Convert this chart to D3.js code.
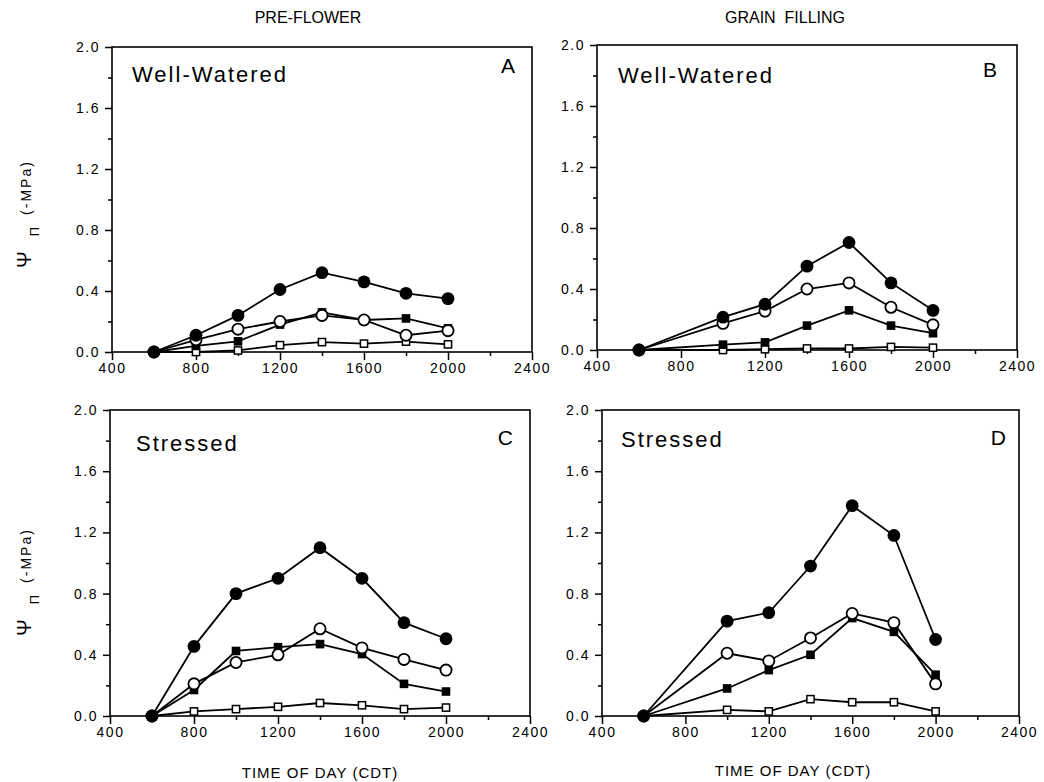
<!DOCTYPE html>
<html>
<head>
<meta charset="utf-8">
<script src="https://cdn.jsdelivr.net/npm/d3@7"></script>
<style>
  body { margin: 0; background: #fff; }
  svg text { font-family: "Liberation Sans", Arial, Helvetica, sans-serif; fill: #000; }
</style>
</head>
<body>
<div class="svg-container"></div>
<script>
// time of day (CDT) sampled in each stage
var timesPreFlower = [600, 800, 1000, 1200, 1400, 1600, 1800, 2000];
var timesGrainFill = [600, 1000, 1200, 1400, 1600, 1800, 2000];

// A: pre-flower, well-watered
var aFilledCircle = [0, 0.11, 0.24, 0.41, 0.52, 0.46, 0.385, 0.35];
var aOpenCircle   = [0, 0.08, 0.15, 0.20, 0.24, 0.21, 0.11, 0.14];
var aFilledSquare = [0, 0.04, 0.07, 0.18, 0.26, 0.21, 0.22, 0.155];
var aOpenSquare   = [0, 0.0, 0.01, 0.045, 0.065, 0.055, 0.068, 0.05];

// B: grain filling, well-watered
var bFilledCircle = [0, 0.215, 0.30, 0.55, 0.705, 0.44, 0.26];
var bOpenCircle   = [0, 0.175, 0.255, 0.40, 0.44, 0.28, 0.165];
var bFilledSquare = [0, 0.035, 0.05, 0.16, 0.26, 0.16, 0.11];
var bOpenSquare   = [0, 0.0, 0.005, 0.01, 0.01, 0.02, 0.015];

// C: pre-flower, stressed
var cFilledCircle = [0, 0.455, 0.80, 0.90, 1.10, 0.90, 0.61, 0.505];
var cOpenCircle   = [0, 0.21, 0.35, 0.40, 0.57, 0.445, 0.37, 0.30];
var cFilledSquare = [0, 0.17, 0.425, 0.45, 0.47, 0.405, 0.21, 0.16];
var cOpenSquare   = [0, 0.03, 0.045, 0.06, 0.085, 0.07, 0.045, 0.055];

// D: grain filling, stressed
var dFilledCircle = [0, 0.62, 0.675, 0.98, 1.375, 1.18, 0.50];
var dOpenCircle   = [0, 0.41, 0.36, 0.51, 0.67, 0.61, 0.21];
var dFilledSquare = [0, 0.18, 0.30, 0.40, 0.64, 0.55, 0.27];
var dOpenSquare   = [0, 0.04, 0.03, 0.11, 0.09, 0.09, 0.03];

var xMajorTicks = [400, 800, 1200, 1600, 2000, 2400];
var xMinorTicks = [600, 1000, 1400, 1800, 2200];
var yMajorTicks = [0, 0.4, 0.8, 1.2, 1.6, 2.0];
var yMinorTicks = [0.2, 0.6, 1.0, 1.4, 1.8];

var stageTitles = ["PRE-FLOWER", "GRAIN  FILLING"];
var xTitle = "TIME OF DAY (CDT)";

// panel frames, in page pixels
var panels = [
    {letter: "A", label: "Well-Watered", times: timesPreFlower,
     series: [aOpenSquare, aFilledSquare, aOpenCircle, aFilledCircle],
     left: 112, right: 532, top: 47, bottom: 352, labelDx: 20, labelDy: 35, letterDx: 17, letterDy: 26},
    {letter: "B", label: "Well-Watered", times: timesGrainFill,
     series: [bOpenSquare, bFilledSquare, bOpenCircle, bFilledCircle],
     left: 597, right: 1017, top: 45, bottom: 350, labelDx: 21, labelDy: 38, letterDx: 20, letterDy: 32},
    {letter: "C", label: "Stressed", times: timesPreFlower,
     series: [cOpenSquare, cFilledSquare, cOpenCircle, cFilledCircle],
     left: 110, right: 530, top: 410, bottom: 716, labelDx: 26, labelDy: 41, letterDx: 17, letterDy: 35},
    {letter: "D", label: "Stressed", times: timesGrainFill,
     series: [dOpenSquare, dFilledSquare, dOpenCircle, dFilledCircle],
     left: 602, right: 1019, top: 410, bottom: 716, labelDx: 19, labelDy: 37, letterDx: 13, letterDy: 35}
];

// marker kind for each series index (same order as series arrays)
var markers = ["openSquare", "filledSquare", "openCircle", "filledCircle"];

var svg = d3.select(".svg-container").append("svg")
    .attr("width", 1044)
    .attr("height", 782);

panels.forEach(function (p) {
    var xScale = d3.scaleLinear().domain([400, 2400]).range([p.left, p.right]),
        yScale = d3.scaleLinear().domain([0, 2]).range([p.bottom, p.top]);

    var g = svg.append("g").attr("class", "panel");

    // x axis: major ticks with labels, minor ticks without
    var xAx = g.append("g")
        .attr("class", "axis axis--x")
        .attr("transform", "translate(0," + p.bottom + ")")
        .call(d3.axisBottom(xScale).tickValues(xMajorTicks).tickSize(8).tickPadding(3)
            .tickFormat(d3.format("d")));
    g.append("g")
        .attr("transform", "translate(0," + p.bottom + ")")
        .call(d3.axisBottom(xScale).tickValues(xMinorTicks).tickSize(4).tickFormat(""));

    var yAx = g.append("g")
        .attr("class", "axis axis--y")
        .attr("transform", "translate(" + p.left + ",0)")
        .call(d3.axisLeft(yScale).tickValues(yMajorTicks).tickSize(7).tickPadding(5)
            .tickFormat(d3.format(".1f")));
    g.append("g")
        .attr("transform", "translate(" + p.left + ",0)")
        .call(d3.axisLeft(yScale).tickValues(yMinorTicks).tickSize(4).tickFormat(""));

    g.selectAll(".domain").remove();
    g.selectAll(".tick line").attr("stroke", "#000").attr("stroke-width", 1.5);
    g.selectAll(".tick text")
        .attr("font-size", "14px")
        .attr("letter-spacing", "1.5px")
        .attr("fill", "#000");

    // frame
    g.append("rect")
        .attr("x", p.left)
        .attr("y", p.top)
        .attr("width", p.right - p.left)
        .attr("height", p.bottom - p.top)
        .attr("fill", "none")
        .attr("stroke", "#000")
        .attr("stroke-width", 1.6);

    // panel texts
    g.append("text")
        .attr("x", p.left + p.labelDx)
        .attr("y", p.top + p.labelDy)
        .attr("font-size", "22px")
        .attr("letter-spacing", "2px")
        .text(p.label);
    g.append("text")
        .attr("x", p.right - p.letterDx)
        .attr("y", p.top + p.letterDy)
        .attr("font-size", "21px")
        .style("text-anchor", "end")
        .text(p.letter);

    var line = d3.line()
        .x(function (d) { return xScale(d.time); })
        .y(function (d) { return yScale(d.value); });

    var seriesData = p.series.map(function (vals, i) {
        return {
            kind: markers[i],
            values: p.times.map(function (t, j) { return {time: t, value: vals[j]}; })
        };
    });

    // lines underneath all markers
    g.selectAll(".line")
        .data(seriesData)
        .enter().append("path")
        .attr("class", "line")
        .attr("d", function (d) { return line(d.values); })
        .attr("fill", "none")
        .attr("stroke", "#000")
        .attr("stroke-width", 1.8);

    seriesData.forEach(function (s) {
        var pts = g.append("g").selectAll("g")
            .data(s.values)
            .enter().append("g")
            .attr("transform", function (d) {
                return "translate(" + xScale(d.time) + "," + yScale(d.value) + ")";
            });
        if (s.kind === "filledCircle") {
            pts.append("circle").attr("r", 6.4).attr("fill", "#000");
        } else if (s.kind === "openCircle") {
            pts.append("circle").attr("r", 5.6).attr("fill", "#fff")
                .attr("stroke", "#000").attr("stroke-width", 1.8);
        } else if (s.kind === "filledSquare") {
            pts.append("rect").attr("x", -4.3).attr("y", -4.3)
                .attr("width", 8.6).attr("height", 8.6).attr("fill", "#000");
        } else {
            pts.append("rect").attr("x", -3.6).attr("y", -3.6)
                .attr("width", 7.2).attr("height", 7.2).attr("fill", "#fff")
                .attr("stroke", "#000").attr("stroke-width", 1.5);
        }
    });
});

// column titles
svg.append("text")
    .attr("x", 308).attr("y", 23)
    .attr("font-size", "16px")
    .style("text-anchor", "middle")
    .text(stageTitles[0]);
svg.append("text")
    .attr("x", 785).attr("y", 23)
    .attr("font-size", "16px")
    .style("text-anchor", "middle")
    .style("white-space", "pre")
    .text(stageTitles[1]);

// x axis titles
[[320, 778], [793, 776]].forEach(function (pos) {
    svg.append("text")
        .attr("x", pos[0]).attr("y", pos[1])
        .attr("font-size", "15px")
        .attr("letter-spacing", "1px")
        .style("text-anchor", "middle")
        .text(xTitle);
});

// y axis titles (psi sub pi, -MPa), one per row
[268, 636].forEach(function (yStart) {
    var t = svg.append("text")
        .attr("transform", "translate(31," + yStart + ") rotate(-90)");
    t.append("tspan").attr("font-size", "20px").text("\u03A8");
    t.append("tspan").attr("font-size", "13px").attr("dx", 15).attr("dy", 8).text("\u03A0");
    t.append("tspan").attr("font-size", "14px").attr("letter-spacing", "2px")
        .attr("dx", 12).attr("dy", -8).text("(-MPa)");
});
</script>
</body>
</html>
